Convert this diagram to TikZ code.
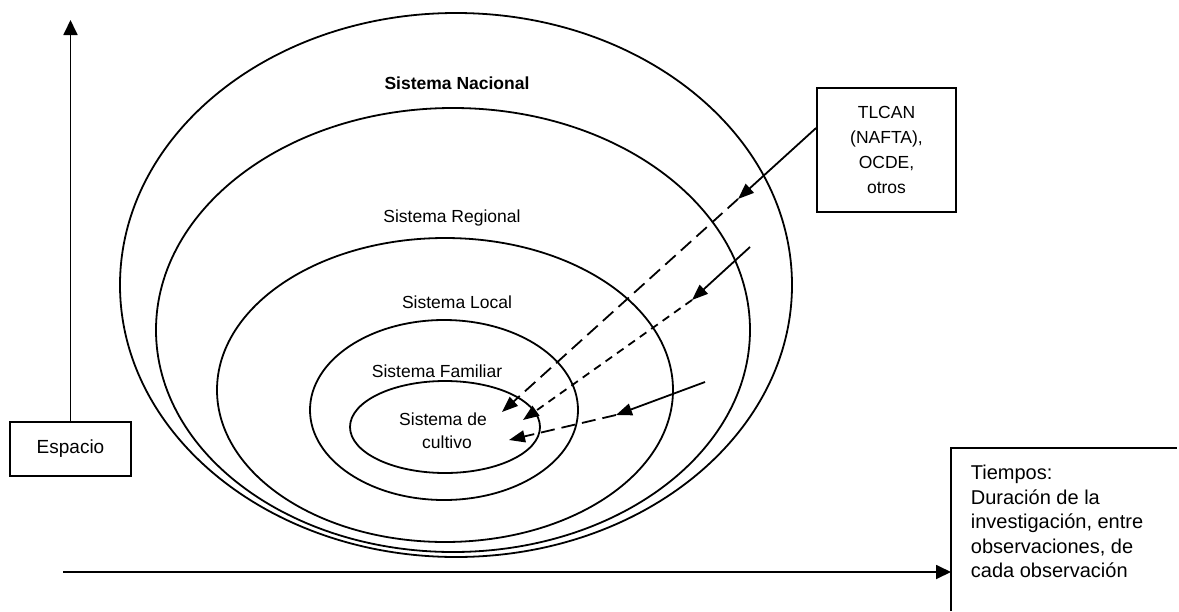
\documentclass[tikz,border=0pt]{standalone}
\usepackage{fontspec}
\setmainfont{Liberation Sans}
\usetikzlibrary{arrows.meta}
\begin{document}
\begin{tikzpicture}[x=1pt,y=-1pt,
  line width=1.8pt,
  every node/.style={font=\fontsize{17.5}{24.5}\selectfont, inner sep=0pt},
  tip/.style={-{Triangle[length=16pt,width=12pt]}},
  axistip/.style={-{Triangle[length=15pt,width=14pt]}},
  longdash/.style={dash pattern=on 14pt off 7pt},
  shortdash/.style={dash pattern=on 8pt off 6pt},
  box/.style={draw, line width=1.8pt},
  lbl/.style={anchor=base},
  tlbl/.style={anchor=base west, font=\fontsize{20}{24.5}\selectfont},
]
\useasboundingbox (0,0) rectangle (1179,611);

% ellipses
\coordinate (cNat) at (456,285);
\coordinate (cReg) at (453,330);
\coordinate (cLoc) at (445,390);
\coordinate (cFam) at (444,410);
\coordinate (cCul) at (445,427);
\draw (cNat) ellipse [x radius=336pt, y radius=272pt];
\draw (cReg) ellipse [x radius=297pt, y radius=222pt];
\draw (cLoc) ellipse [x radius=228pt, y radius=152pt];
\draw (cFam) ellipse [x radius=134pt, y radius=90pt];
\draw (cCul) ellipse [x radius=95pt, y radius=46pt];

% labels
\node[lbl, font=\fontsize{17.5}{24.5}\selectfont\bfseries] (lNat) at (457,89) {Sistema Nacional};
\node[lbl] (lReg) at (452,222) {Sistema Regional};
\node[lbl] (lLoc) at (457,308) {Sistema Local};
\node[lbl] (lFam) at (437,377) {Sistema Familiar};
\node[lbl] (lCul1) at (443,425) {Sistema de};
\node[lbl] (lCul2) at (447,448) {cultivo};

% Espacio box and vertical axis
\node[box, minimum width=121pt, minimum height=54pt, font=\fontsize{19}{24.5}\selectfont] (esp) at (70.5,449) {Espacio};
\coordinate (ytop) at (70.5,20);
\draw[axistip] (esp.north) -- (ytop);

% Tiempos box (open) and horizontal axis
\coordinate (tBL) at (951,611);
\coordinate (tTL) at (951,448);
\coordinate (tTR) at (1177,448);
\draw (tBL) -- (tTL) -- (tTR);
\coordinate (xstart) at (63,572);
\coordinate (xend) at (951,572);
\draw[axistip] (xstart) -- (xend);
\node[tlbl] (t1) at (970,479.5) {Tiempos:};
\node[tlbl] (t2) at (970,504) {Duración de la};
\node[tlbl] (t3) at (970,528.5) {investigación, entre};
\node[tlbl] (t4) at (970,553) {observaciones, de};
\node[tlbl] (t5) at (970,577.5) {cada observación};

% TLCAN box
\node[box, minimum width=139pt, minimum height=124pt] (tlcan) at (886.5,150) {};
\node[lbl] (n1) at (886.5,118) {TLCAN};
\node[lbl] (n2) at (886.5,143) {(NAFTA),};
\node[lbl] (n3) at (886.5,168) {OCDE,};
\node[lbl] (n4) at (886.5,193) {otros};

% arrows
\coordinate (a1s) at ([yshift=22pt]tlcan.west);
\coordinate (a1m) at (738,199);
\coordinate (a1e) at (502,412);
\draw[tip] (a1s) -- (a1m);
\draw[tip, longdash] (a1m) -- (a1e);

\coordinate (a2s) at (750,247);
\coordinate (a2m) at (692,300);
\coordinate (a2e) at (523,420);
\draw[tip] (a2s) -- (a2m);
\draw[tip, shortdash] (a2m) -- (a2e);

\coordinate (a3s) at (705,382);
\coordinate (a3m) at (616,415);
\coordinate (a3e) at (509,440);
\draw[tip] (a3s) -- (a3m);
\draw[tip, longdash] (a3m) -- (a3e);
\end{tikzpicture}
\end{document}
